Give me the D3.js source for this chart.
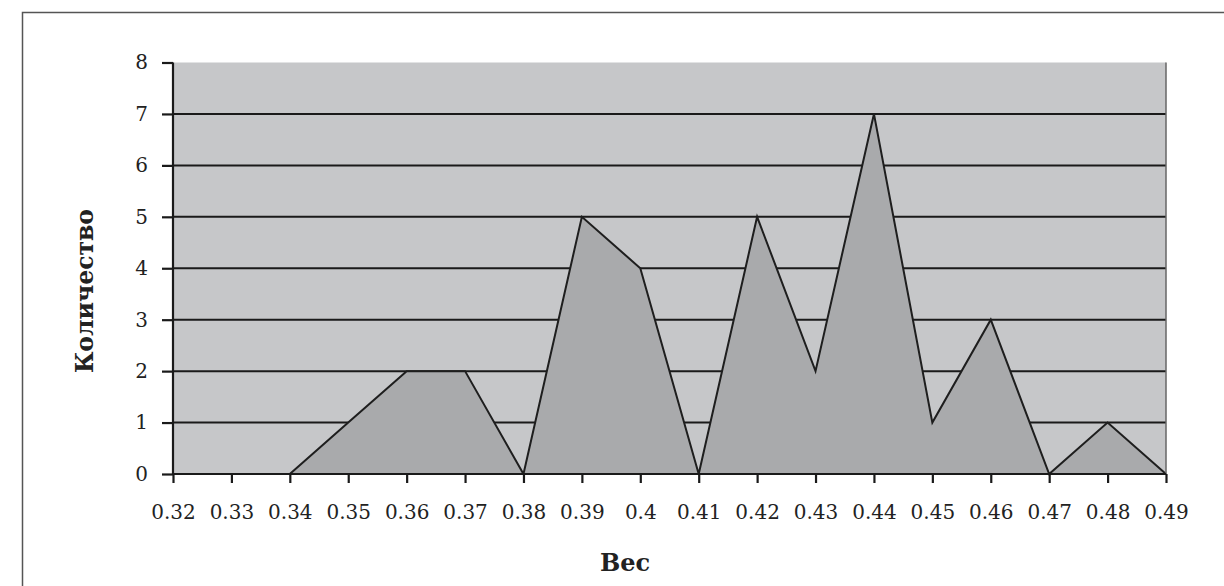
<!DOCTYPE html>
<html><head><meta charset="utf-8">
<script src="https://cdn.jsdelivr.net/npm/d3@7"></script>
<style>html,body{margin:0;padding:0;background:#fff;}svg{display:block;}</style>
</head><body>
<svg id="c" width="1224" height="586"></svg>
<script>
const categories = ["0.32","0.33","0.34","0.35","0.36","0.37","0.38","0.39","0.4","0.41","0.42","0.43","0.44","0.45","0.46","0.47","0.48","0.49"];
const counts = [0,0,0,1,2,2,0,5,4,0,5,2,7,1,3,0,1,0];
const yTicks = [0,1,2,3,4,5,6,7,8];
const xTitle = "Вес";
const yTitle = "Количество";

const svg = d3.select("#c");
const m = {l:173, r:1166, t:62.5, b:474};
const font = "'DejaVu Serif', serif";

// outer frame
svg.append("path").attr("d","M22.5,586 L22.5,12.5 L1224,12.5").attr("fill","none").attr("stroke","#555").attr("stroke-width",1.5);

const x = d3.scalePoint().domain(categories).range([m.l, m.r]);
const y = d3.scaleLinear().domain([0,8]).range([m.b, m.t]);

svg.append("rect").attr("x",m.l).attr("y",m.t).attr("width",m.r-m.l).attr("height",m.b-m.t).attr("fill","#c6c7c9");

// gridlines
svg.append("g").selectAll("line").data(yTicks.filter(d=>d>0 && d<8)).join("line")
  .attr("x1",m.l).attr("x2",m.r).attr("y1",d=>y(d)).attr("y2",d=>y(d))
  .attr("stroke","#1a1a1a").attr("stroke-width",2);

const data = categories.map((c,i)=>({c, v:counts[i]}));
const area = d3.area().x(d=>x(d.c)).y0(y(0)).y1(d=>y(d.v));
svg.append("path").datum(data).attr("d",area).attr("fill","#a9aaac");
const line = d3.line().x(d=>x(d.c)).y(d=>y(d.v));
svg.append("path").datum(data).attr("d",line).attr("fill","none").attr("stroke","#1e1e1e").attr("stroke-width",2).attr("stroke-linejoin","miter");

// right border
svg.append("line").attr("x1",m.r).attr("x2",m.r).attr("y1",m.t).attr("y2",m.b).attr("stroke","#666").attr("stroke-width",1.5);

// axes
const yAxis = svg.append("g").attr("transform",`translate(${m.l},0)`)
  .call(d3.axisLeft(y).tickValues(yTicks).tickFormat(d3.format("d")).tickSize(11).tickPadding(14));
const xAxis = svg.append("g").attr("transform",`translate(0,${m.b})`)
  .call(d3.axisBottom(x).tickSize(9).tickPadding(22));
[yAxis,xAxis].forEach(g=>{
  g.select(".domain").attr("stroke","#1a1a1a").attr("stroke-width",2.2);
  g.selectAll(".tick line").attr("stroke","#1a1a1a").attr("stroke-width",2.2);
  g.selectAll("text").attr("font-family",font).attr("font-size",20).attr("fill","#222");
});
xAxis.select(".domain").attr("d",`M${m.l},0H${m.r}`);
yAxis.select(".domain").attr("d",`M0,${m.b}V${m.t}`);

svg.append("text").attr("x",625).attr("y",571).attr("text-anchor","middle")
  .attr("font-family",font).attr("font-weight","bold").attr("font-size",24).attr("fill","#222").text(xTitle);
svg.append("text").attr("transform",`translate(93,291) rotate(-90)`).attr("text-anchor","middle")
  .attr("font-family",font).attr("font-weight","bold").attr("font-size",23.5).attr("fill","#222").text(yTitle);
</script>
</body></html>
